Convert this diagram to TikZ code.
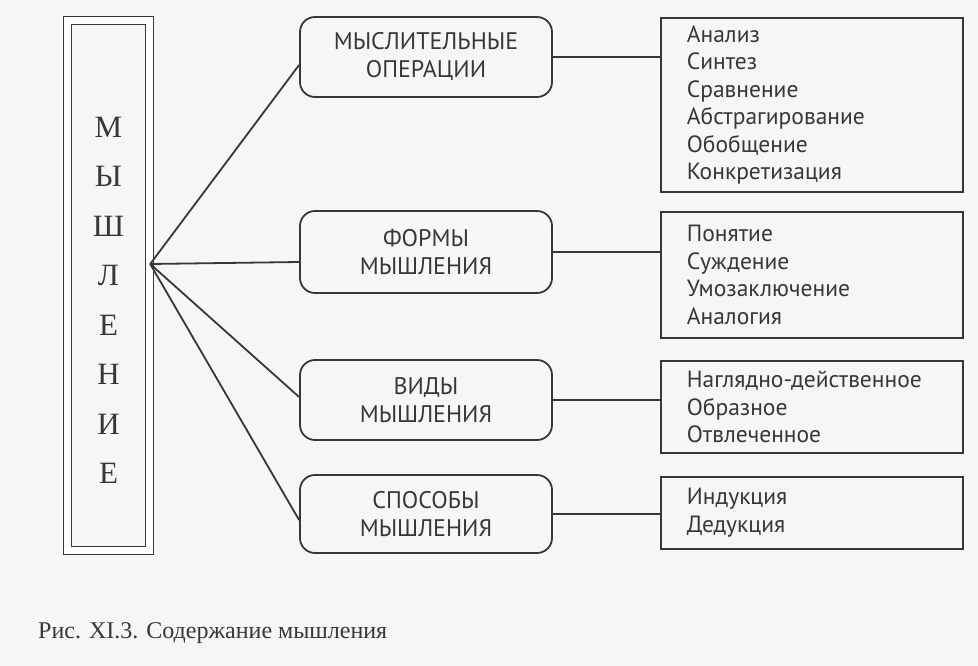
\documentclass[tikz,border=0pt]{standalone}
\usepackage{fontspec}
\setmainfont{Liberation Serif}
\newfontfamily\boxfont{PT Sans}
\usepackage{tikz}
\usetikzlibrary{positioning}

\definecolor{ink}{RGB}{55,55,55}
\definecolor{pagebg}{RGB}{246,246,246}

\begin{document}
\begin{tikzpicture}[x=1pt,y=-1pt,
  line width=1.8pt, draw=ink, text=ink,
  midbox/.style={draw, rounded corners=15pt, minimum width=252pt, minimum height=80pt,
    align=center, font=\boxfont\fontsize{24}{28}\selectfont},
  listbox/.style={draw, anchor=north west, minimum width=296pt, text width=250pt,
    inner xsep=26pt, align=left, font=\boxfont\fontsize{23.5}{27.5}\selectfont}]

\fill [pagebg] (0,0) rectangle (978,666) ;
\useasboundingbox (0,0) rectangle (978,666) ;

% left frame
\node [draw, double, double distance=7pt, line width=1.4pt, minimum width=82pt, minimum height=530pt] (frame) at (108.5,285.5) {} ;
\node [align=center, font=\fontsize{31}{49.5}\selectfont, yshift=-15pt] (word) at (frame.center)
  {М\\Ы\\Ш\\Л\\Е\\Н\\И\\Е} ;
\coordinate (hub) at ([yshift=21.5pt]frame.east) ;

% middle column
\node [midbox] (oper) at (426,57) {МЫСЛИТЕЛЬНЫЕ\\ОПЕРАЦИИ} ;
\node [midbox, minimum height=82pt] (form) at (426,252) {ФОРМЫ\\МЫШЛЕНИЯ} ;
\node [midbox] (vid) at (426,400) {ВИДЫ\\МЫШЛЕНИЯ} ;
\node [midbox, minimum height=78pt] (sposob) at (426,514) {СПОСОБЫ\\МЫШЛЕНИЯ} ;

% right column
\node [listbox, minimum height=174pt] (operlist) at (660,17)
  {Анализ\\Синтез\\Сравнение\\Абстрагирование\\Обобщение\\Конкретизация} ;
\node [listbox, minimum height=126pt] (formlist) at (660,211)
  {Понятие\\Суждение\\Умозаключение\\Аналогия} ;
\node [listbox, minimum height=92pt] (vidlist) at (660,360)
  {Наглядно-действенное\\Образное\\Отвлеченное} ;
\node [listbox, minimum height=72pt] (sposoblist) at (660,476)
  {Индукция\\Дедукция} ;

\draw (hub) -- ([yshift=-8pt]oper.west) ;
\draw (hub) -- ([yshift=-10pt]form.west) ;
\draw (hub) -- ([yshift=3pt]vid.west) ;
\draw (hub) -- ([yshift=-6pt]sposob.west) ;

\draw (oper.east) -- (oper.east -| operlist.west) ;
\draw (form.east) -- (form.east -| formlist.west) ;
\draw (vid.east) -- (vid.east -| vidlist.west) ;
\draw (sposob.east) -- (sposob.east -| sposoblist.west) ;

\node [anchor=west, font=\fontsize{24}{26}\selectfont] (caption) at (34,633)
  {Рис. XI.3. Содержание мышления} ;
\end{tikzpicture}
\end{document}
